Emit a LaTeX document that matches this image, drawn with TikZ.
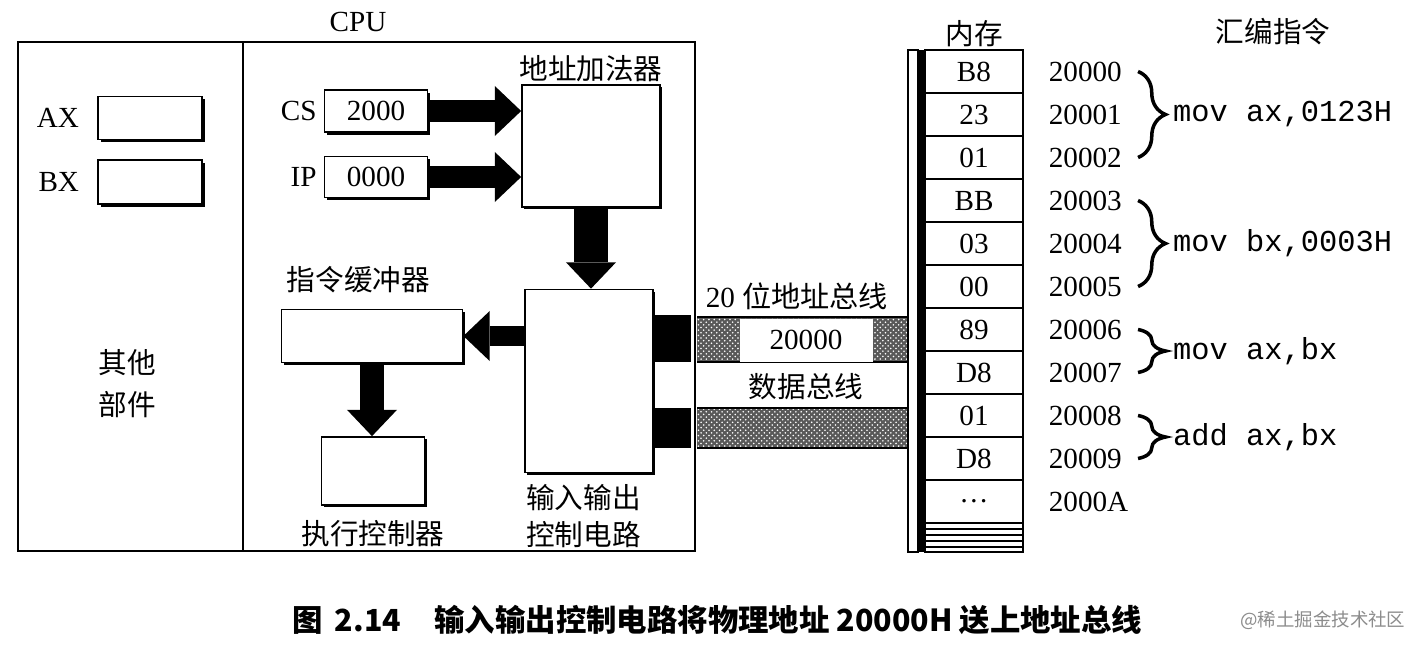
\documentclass[tikz,border=0pt]{standalone}
\usepackage{fontspec}
\setmainfont{Liberation Serif}
\setmonofont{Liberation Mono}
\newfontfamily\cjk{Noto Sans CJK SC}
\usetikzlibrary{arrows.meta,shadows,patterns,decorations.pathreplacing,positioning}

\tikzset{
  reg/.style={draw, line width=1pt, fill=white, inner sep=0pt,
    drop shadow={shadow xshift=1.6pt, shadow yshift=-1.6pt, opacity=1, fill=black}},
  unit/.style={draw, line width=1pt, fill=white,
    drop shadow={shadow xshift=1.2pt, shadow yshift=-1.2pt, opacity=1, fill=black}},
  fat/.style={line width=#1, -{Triangle[length=15pt, width=28.5pt, line width=0pt]}},
  cell/.style={draw, line width=0.8pt, minimum width=1.96cm, minimum height=0.86cm, inner sep=0pt},
  bus/.style={fill=black!65, postaction={pattern=crosshatch dots, pattern color=white}},
  brc/.style={decorate, decoration={brace, amplitude=0.55cm}, line width=2pt},
  lbl/.style={inner sep=1pt},
  zh/.style={inner sep=1pt, font=\cjk\fontsize{16.3}{21}\selectfont},
  asm/.style={font=\ttfamily\fontsize{17.3}{20}\selectfont},
}

\begin{document}
\begin{tikzpicture}[x=0.02cm, y=-0.02cm, font=\fontsize{16.6}{20}\selectfont]
    \useasboundingbox (0,0) rectangle (1412,649);

    % CPU frame
    \draw[line width=1.5pt] (18,42) rectangle (695,551);
    \draw[line width=1.2pt] (243,42) -- (243,551);
    \node[lbl] (lcpu) at (358,22) {CPU};

    % general registers and the rest
    \node[reg, minimum width=2.08cm, minimum height=0.86cm] (ax) at (150,118) {};
    \node[reg, minimum width=2.08cm, minimum height=0.88cm] (bx) at (150,182) {};
    \node[lbl, left=0.32cm of ax] (lax) {AX};
    \node[lbl, left=0.32cm of bx] (lbx) {BX};
    \node[inner sep=1pt, align=center, font=\cjk\fontsize{16.3}{24}\selectfont] (lother) at (127,384) {其他\\部件};

    % segment and offset registers
    \node[reg, minimum width=2.06cm, minimum height=0.84cm] (cs) at (376,111) {2000};
    \node[reg, minimum width=2.06cm, minimum height=0.82cm] (ip) at (376,177) {0000};
    \node[lbl, left=0.1cm of cs] (lcs) {CS};
    \node[lbl, left=0.1cm of ip] (lip) {IP};

    % units
    \node[unit, minimum width=2.76cm, minimum height=2.44cm] (adder) at (591,146) {};
    \node[unit, minimum width=2.56cm, minimum height=3.66cm] (io) at (589,381) {};
    \node[unit, minimum width=3.62cm, minimum height=1.06cm] (buf) at (372,336) {};
    \node[unit, minimum width=2.06cm, minimum height=1.36cm] (exec) at (373,471) {};
    \node[zh, above=0pt of adder] (ladder) {地址加法器};
    \node[zh, anchor=south west] (lbuf) at ([xshift=0.08cm, yshift=0.28cm]buf.north west) {指令缓冲器};
    \node[zh, below=0.24cm of exec] (lexec) {执行控制器};
    \node[zh, align=left, anchor=north west] (lio) at ([yshift=-0.18cm]io.south west) {输入输出\\控制电路};

    % block arrows
    \draw[fat=12.5pt] (cs.east) -- (cs.east -| adder.west);
    \draw[fat=12.5pt] (ip.east) -- (ip.east -| adder.west);
    \draw[fat=19pt] (adder.south) -- (adder.south |- io.north);
    \draw[fat=11.3pt] (io.west |- buf.east) -- (buf.east);
    \draw[fat=13.6pt] (buf.south) -- (buf.south |- exec.north);

    % buses
    \fill (653,315) rectangle (691,362);
    \fill (653,408) rectangle (691,448);
    \path[bus] (697,317) rectangle (908,362);
    \path[bus] (697,408) rectangle (908,448);
    \draw[line width=0.8pt] (697,317) -- (908,317) (697,362) -- (908,362)
        (697,408) -- (908,408) (697,448) -- (908,448);
    \node[fill=white, minimum width=2.66cm, minimum height=0.86cm] (addr) at (806,340) {20000};
    \node[lbl] (labus) at (797,296) {20 {\cjk 位地址总线}};
    \node[zh] (ldbus) at (806,387) {数据总线};

    % memory
    \draw[line width=0.8pt, fill=white] (908,50) rectangle (918,552);
    \fill (919,50) rectangle (925,552);
    \foreach \v [count=\i] in {B8,23,01,BB,03,00,89,D8,01,D8,\dots}
        \node[cell] (m\i) at (974,{50+43*\i-21.5}) {\v};
    \draw[line width=0.8pt] (925,50) rectangle (1023,552);
    \foreach \y in {529,535,541,547}
        \draw[line width=0.8pt] (925,\y) -- (1023,\y);
    \node[zh, above=0pt of m1] (lmem) {内存};

    % addresses and instructions
    \foreach \a [count=\i] in {20000,20001,20002,20003,20004,20005,20006,20007,20008,20009,2000A}
        \node[anchor=west] (a\i) at ([xshift=0.38cm]m\i.east) {\a};
    \node[zh] (lasm) at (1273,32) {汇编指令};
    \draw[brc] ([xshift=0.2cm]a1.east) -- ([xshift=0.2cm]a3.east) node[asm, midway, right=0.55cm] (i1) {mov ax,0123H};
    \draw[brc] ([xshift=0.2cm]a4.east) -- ([xshift=0.2cm]a6.east) node[asm, midway, right=0.55cm] (i2) {mov bx,0003H};
    \draw[brc] ([xshift=0.2cm]a7.east) -- ([xshift=0.2cm]a8.east) node[asm, midway, right=0.55cm] (i3) {mov ax,bx};
    \draw[brc] ([xshift=0.2cm]a9.east) -- ([xshift=0.2cm]a10.east) node[asm, midway, right=0.55cm] (i4) {add ax,bx};

    % caption
    \node[anchor=west, inner sep=0pt, font=\cjk\bfseries\fontsize{17.3}{20}\selectfont] (cap) at (292,620)
        {图\hspace{0.4em}2.14\hspace{1.1em}输入输出控制电路将物理地址 20000H 送上地址总线};
    \node[anchor=west, inner sep=0pt, text=black!45, font=\cjk\fontsize{10.5}{12}\selectfont] (mark) at (1240,620) {@稀土掘金技术社区};
\end{tikzpicture}
\end{document}
